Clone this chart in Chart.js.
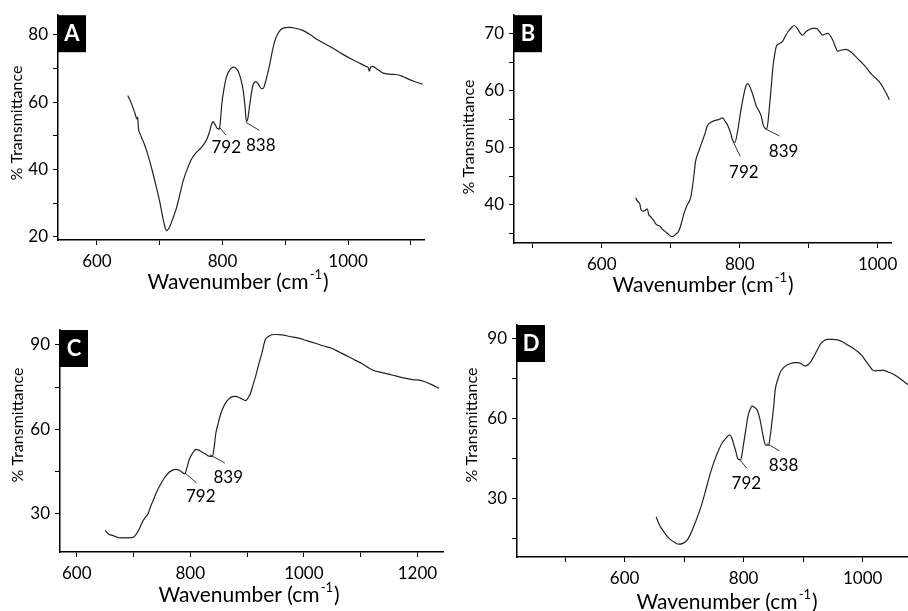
<!DOCTYPE html>
<html>
<head>
<meta charset="utf-8">
<script src="https://cdn.jsdelivr.net/npm/chart.js@4.4.1/dist/chart.umd.min.js"></script>
<style>
  html, body { margin: 0; padding: 0; background: #fff; overflow: hidden; }
  body { width: 908px; height: 611px; position: relative; }
  canvas { position: absolute; }
</style>
</head>
<body>
<canvas id="panelA" width="454" height="300" style="left:0;top:0"></canvas>
<canvas id="panelB" width="454" height="300" style="left:454px;top:0"></canvas>
<canvas id="panelC" width="454" height="311" style="left:0;top:300px"></canvas>
<canvas id="panelD" width="486" height="311" style="left:454px;top:300px"></canvas>
<script>
// FTIR spectra (wavenumber cm-1 / % transmittance)
var wnA = [649,655,660,664,665,666,669,675,680,688,695,700,706,709,711,714,716,721,727,732,737,744,751,758,764,770,775,779,783,785,788,791,795,797,799,802,806,811,817,821,825,829,833,836,838,840,843,846,849,853,857,862,865,867,871,875,879,883,888,894,900,907,915,928,940,949,960,976,990,1003,1015,1029,1032,1034,1036,1039,1047,1055,1065,1076,1085,1092,1105,1119];
var trA = [62.0,59.6,57.0,55.0,55.6,52.5,50.5,47.8,45.1,39.8,34.5,30.5,24.8,22.6,21.9,22.4,23.0,25.5,28.8,32.5,36.4,40.2,43.2,45.0,46.1,47.4,49.0,51.0,53.6,54.2,53.4,52.4,52.0,55.0,59.6,63.5,67.3,69.4,70.4,70.1,69.2,67.0,63.4,58.5,54.3,54.8,58.7,62.5,65.3,66.1,65.4,64.0,64.1,65.0,67.8,71.0,74.8,77.9,80.2,81.7,82.1,82.2,82.0,81.3,80.0,78.8,77.6,76.0,74.4,73.0,71.9,70.6,70.3,69.2,70.4,70.6,69.7,68.7,68.3,68.2,67.8,67.2,66.2,65.3];

var wnB = [649,652,655,657,660,663,666,668,671,675,678,681,684,687,690,695,702,707,712,716,719,724,729,733,736,741,746,750,753,758,763,769,775,779,783,787,790,793,797,801,805,809,812,815,819,824,828,831,834,836,839,841,843,846,848,851,853,857,862,866,870,875,879,883,887,891,896,901,906,911,916,920,924,928,932,935,939,942,948,954,961,968,976,983,990,996,1002,1008,1013,1017];
var trB = [41.2,40.6,40.2,39.1,38.9,39.0,39.3,38.3,37.9,37.3,36.7,36.4,36.3,35.8,35.5,35.0,34.4,34.8,35.5,37.0,38.4,40.0,41.3,44.5,47.6,49.5,51.2,52.6,53.8,54.4,54.7,54.9,55.2,54.6,53.8,52.5,51.2,50.9,52.9,56.0,58.7,60.8,61.2,60.6,59.3,57.3,56.4,55.6,54.0,53.5,53.2,54.5,57.0,61.0,63.9,66.5,67.7,68.2,68.6,69.5,70.3,71.0,71.4,71.0,70.2,69.7,70.3,70.7,70.9,70.9,70.3,69.7,69.9,70.0,69.5,68.8,67.6,66.9,67.1,67.2,66.8,66.0,65.0,64.1,63.0,62.3,61.6,60.5,59.4,58.4];

var wnC = [650,655,659,663,668,672,676,681,687,693,699,704,708,712,716,721,726,730,735,741,747,754,761,768,775,780,784,790,794,798,804,810,815,819,826,833,839,842,845,849,853,857,862,868,874,880,885,891,897,901,906,910,915,920,926,932,938,944,952,961,975,991,1005,1020,1035,1049,1063,1078,1090,1101,1112,1124,1133,1142,1155,1165,1180,1194,1203,1212,1225,1238];
var trC = [24.1,23.0,22.5,22.3,21.9,21.6,21.4,21.5,21.4,21.5,21.6,22.5,23.8,25.4,27.2,28.7,30.2,32.5,34.9,37.8,40.2,42.6,44.4,45.4,45.8,45.5,45.0,44.2,46.3,49.2,51.5,52.9,52.6,52.1,51.3,50.5,50.4,53.5,58.6,62.0,65.1,67.3,69.3,70.8,71.6,71.7,71.4,70.8,70.2,70.9,72.8,75.5,78.8,82.7,87.0,91.8,93.0,93.6,93.7,93.6,93.0,92.4,91.5,90.6,89.6,88.8,87.4,85.9,84.6,83.5,82.1,80.8,80.4,80.0,79.3,78.8,78.1,77.6,77.5,77.0,75.9,74.6];

var wnD = [653,658,662,666,671,677,684,691,698,705,710,716,723,730,737,744,751,758,764,770,775,777,780,783,787,790,793,795,798,800,804,807,811,814,818,823,827,831,834,837,842,845,848,851,853,857,862,867,873,879,884,890,896,900,904,909,913,917,921,926,930,935,941,950,958,966,975,984,992,999,1006,1012,1017,1022,1026,1029,1033,1037,1045,1054,1065,1077];
var trD = [23.1,20.4,18.8,17.5,16.0,14.6,13.6,12.9,13.2,14.4,16.3,19.4,23.5,28.1,33.7,39.4,44.2,48.1,50.9,52.5,53.7,53.8,52.8,50.6,47.6,45.0,44.5,44.4,47.5,50.6,56.2,60.6,63.4,64.6,64.2,63.1,60.1,55.6,52.0,50.0,50.0,54.0,59.4,65.5,70.6,74.3,77.5,79.0,80.0,80.6,80.9,80.9,80.6,80.0,79.6,80.3,81.3,82.8,84.4,86.6,88.1,89.1,89.6,89.6,89.4,88.7,87.5,86.3,85.0,83.5,81.3,79.5,78.1,77.8,78.0,77.9,78.1,77.9,77.2,76.3,74.6,72.5];

// labelled ticks
var xLabelsA = [600, 800, 1000], yLabelsA = [20, 40, 60, 80];
var xLabelsB = [600, 800, 1000], yLabelsB = [40, 50, 60, 70];
var xLabelsC = [600, 800, 1000, 1200], yLabelsC = [30, 60, 90];
var xLabelsD = [600, 800, 1000], yLabelsD = [30, 60, 90];

// marked bands
var peaksA = ['792', '838'];
var peaksB = ['792', '839'];
var peaksC = ['792', '839'];
var peaksD = ['792', '838'];

var panels = [
  { id: 'panelA', letter: 'A', wn: wnA, tr: trA, xLabels: xLabelsA, yLabels: yLabelsA, peaks: peaksA,
    xRange: [538, 1121], yRange: [19.1, 85.8], xStep: 100, yStep: 10,
    area: { left: 58, right: 424, top: 11, bottom: 240 }, yTitle: [17, 123], xTitle: [237, 282],
    marks: [ { from: [795, 52.6], to: [805.6, 50.2], at: [806, 46.5] },
             { from: [837.6, 54.0], to: [858.7, 51.6], at: [861, 47.2] } ] },
  { id: 'panelB', letter: 'B', wn: wnB, tr: trB, xLabels: xLabelsB, yLabels: yLabelsB, peaks: peaksB,
    xRange: [472.7, 1019.4], yRange: [33.3, 73.2], xStep: 100, yStep: 5,
    area: { left: 60, right: 437, top: 13, bottom: 243 }, yTitle: [15, 137], xTitle: [248, 285],
    marks: [ { from: [791, 50.9], to: [800.7, 48.5], at: [806, 45.7] },
             { from: [838.5, 53.2], to: [857.8, 52.05], at: [863.6, 49.3] } ] },
  { id: 'panelC', letter: 'C', wn: wnC, tr: trC, xLabels: xLabelsC, yLabels: yLabelsC, peaks: peaksC,
    xRange: [570.6, 1245], yRange: [16.4, 95.3], xStep: 100, yStep: 15,
    area: { left: 60, right: 443, top: 30, bottom: 252 }, yTitle: [18, 125], xTitle: [248, 295],
    marks: [ { from: [790.6, 44.5], to: [811.2, 40.9], at: [818.4, 36.1] },
             { from: [834.6, 50.95], to: [861, 48.0], at: [866.8, 42.7] } ] },
  { id: 'panelD', letter: 'D', wn: wnD, tr: trD, xLabels: xLabelsD, yLabels: yLabelsD, peaks: peaksD,
    xRange: [419.2, 1130], yRange: [8.1, 95.0], xStep: 100, yStep: 15,
    area: { left: 63, right: 486, top: 25, bottom: 257 }, yTitle: [18, 125], xTitle: [272, 302],
    marks: [ { from: [794.1, 44.4], to: [805.4, 41.3], at: [804.7, 35.6] },
             { from: [839, 50.6], to: [860.3, 47.85], at: [867, 42.2] } ] }
];

var FONT = 'Lato, "Open Sans", sans-serif';

function drawXTitle(ctx, cx, cy) {
  var main = 'Wavenumber (cm', sup = '-1', end = ')';
  ctx.font = '21px ' + FONT;
  var w1 = ctx.measureText(main).width, w3 = ctx.measureText(end).width;
  ctx.font = '13px ' + FONT;
  var w2 = ctx.measureText(sup).width;
  var x = cx - (w1 + w2 + w3) / 2;
  ctx.textAlign = 'left';
  ctx.textBaseline = 'middle';
  ctx.font = '21px ' + FONT;
  ctx.fillText(main, x, cy);
  ctx.font = '13px ' + FONT;
  ctx.fillText(sup, x + w1 + 1, cy - 7);
  ctx.font = '21px ' + FONT;
  ctx.fillText(end, x + w1 + w2 + 2, cy);
}

panels.forEach(function (p) {
  var canvas = document.getElementById(p.id);
  var W = canvas.width, H = canvas.height;

  var decor = {
    id: 'decor' + p.letter,
    afterDraw: function (chart) {
      var ctx = chart.ctx, xs = chart.scales.x, ys = chart.scales.y, a = chart.chartArea;
      ctx.save();
      // leader lines and band labels
      ctx.strokeStyle = '#333';
      ctx.lineWidth = 1;
      ctx.fillStyle = '#000';
      ctx.font = '17px ' + FONT;
      ctx.textAlign = 'center';
      ctx.textBaseline = 'middle';
      p.peaks.forEach(function (txt, i) {
        var m = p.marks[i];
        ctx.beginPath();
        ctx.moveTo(xs.getPixelForValue(m.from[0]), ys.getPixelForValue(m.from[1]));
        ctx.lineTo(xs.getPixelForValue(m.to[0]), ys.getPixelForValue(m.to[1]));
        ctx.stroke();
        ctx.fillText(txt, xs.getPixelForValue(m.at[0]), ys.getPixelForValue(m.at[1]));
      });
      // panel letter
      ctx.fillStyle = '#000';
      ctx.fillRect(a.left, a.top, 28, 37);
      ctx.fillStyle = '#fff';
      ctx.font = 'bold 22px ' + FONT;
      ctx.fillText(p.letter, a.left + 14, a.top + 19);
      // axis titles
      ctx.fillStyle = '#000';
      ctx.save();
      ctx.translate(p.yTitle[0], p.yTitle[1]);
      ctx.rotate(-Math.PI / 2);
      ctx.font = '16px ' + FONT;
      ctx.fillText('% Transmittance', 0, 0);
      ctx.restore();
      drawXTitle(ctx, p.xTitle[0], p.xTitle[1]);
      ctx.restore();
    }
  };

  new Chart(canvas.getContext('2d'), {
    type: 'scatter',
    data: {
      datasets: [{
        data: p.wn.map(function (w, i) { return { x: w, y: p.tr[i] }; }),
        showLine: true,
        borderColor: '#222',
        borderWidth: 1.2,
        pointRadius: 0,
        cubicInterpolationMode: 'monotone',
        tension: 0.3
      }]
    },
    options: {
      responsive: false,
      animation: false,
      events: [],
      devicePixelRatio: 1,
      layout: { padding: { left: 0, bottom: 0, top: p.area.top, right: W - p.area.right } },
      plugins: { legend: { display: false }, tooltip: { enabled: false } },
      scales: {
        x: {
          type: 'linear',
          min: p.xRange[0], max: p.xRange[1],
          afterFit: function (s) { s.height = H - p.area.bottom; },
          border: { color: '#000', width: 1.5 },
          grid: { drawOnChartArea: false, drawTicks: true, tickLength: 5, color: '#000', lineWidth: 1 },
          ticks: {
            stepSize: p.xStep, includeBounds: false, autoSkip: false, maxRotation: 0, padding: 6,
            color: '#000', font: { family: FONT, size: 17 },
            callback: function (v) { return p.xLabels.indexOf(v) >= 0 ? String(v) : ''; }
          }
        },
        y: {
          type: 'linear',
          min: p.yRange[0], max: p.yRange[1],
          afterFit: function (s) { s.width = p.area.left; },
          border: { color: '#000', width: 1.5 },
          grid: { drawOnChartArea: false, drawTicks: true, tickLength: 5, color: '#000', lineWidth: 1 },
          ticks: {
            stepSize: p.yStep, includeBounds: false, autoSkip: false, padding: 5,
            color: '#000', font: { family: FONT, size: 17 },
            callback: function (v) { return p.yLabels.indexOf(v) >= 0 ? String(v) : ''; }
          }
        }
      }
    },
    plugins: [decor]
  });
});
</script>
</body>
</html>
